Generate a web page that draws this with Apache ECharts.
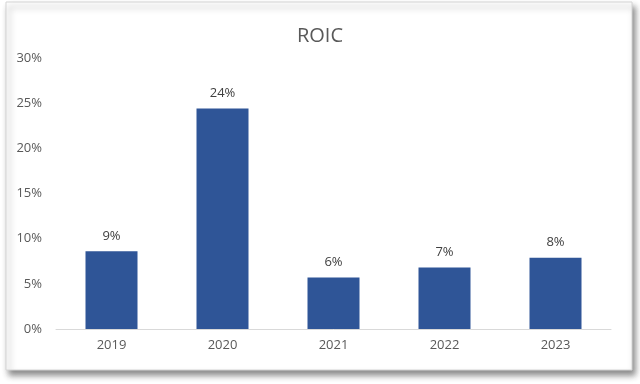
<!DOCTYPE html>
<html>
<head>
<meta charset="utf-8">
<script src="https://cdn.jsdelivr.net/npm/echarts@6/dist/echarts.min.js"></script>
<style>html,body{margin:0;padding:0;background:#fff;}#c{width:640px;height:384px;}</style>
</head>
<body>
<div id="c"></div>
<script>
const categories = ['2019', '2020', '2021', '2022', '2023'];
const roicValues = [8.6, 24.4, 5.7, 6.8, 7.9];
const yTicks = [0, 5, 10, 15, 20, 25, 30];

const chart = echarts.init(document.getElementById('c'), null, {renderer: 'canvas'});
const font = '"Open Sans", "Noto Sans", sans-serif';
chart.setOption({
  animation: false,
  backgroundColor: '#ffffff',
  graphic: [{
    type: 'rect',
    z: -10,
    shape: {x: 6, y: 2, width: 626, height: 368},
    style: {
      fill: '#ffffff',
      stroke: '#d4d4d4',
      lineWidth: 1,
      shadowBlur: 6,
      shadowOffsetX: 3,
      shadowOffsetY: 5,
      shadowColor: 'rgba(0,0,0,0.45)'
    }
  }],
  title: {
    text: 'ROIC',
    left: 'center',
    top: 21,
    textStyle: {fontFamily: font, fontSize: 20, fontWeight: 'normal', color: '#595959'}
  },
  grid: {left: 56, right: 29, top: 58, bottom: 55},
  xAxis: {
    type: 'category',
    data: categories,
    axisLine: {lineStyle: {color: '#d9d9d9', width: 1}},
    axisTick: {show: false},
    axisLabel: {fontFamily: font, fontSize: 13, color: '#595959', margin: 10}
  },
  yAxis: {
    type: 'value',
    min: yTicks[0],
    max: yTicks[yTicks.length - 1],
    interval: 5,
    splitLine: {show: false},
    axisLine: {show: false},
    axisTick: {show: false},
    axisLabel: {fontFamily: font, fontSize: 13, color: '#595959', margin: 14, formatter: v => v + '%'}
  },
  series: [{
    type: 'bar',
    data: roicValues,
    barWidth: 52,
    itemStyle: {color: '#2F5597'},
    label: {
      show: true,
      position: 'top',
      distance: 9,
      fontFamily: font,
      fontSize: 13,
      color: '#404040',
      formatter: p => Math.round(p.value) + '%'
    }
  }]
});
</script>
</body>
</html>
